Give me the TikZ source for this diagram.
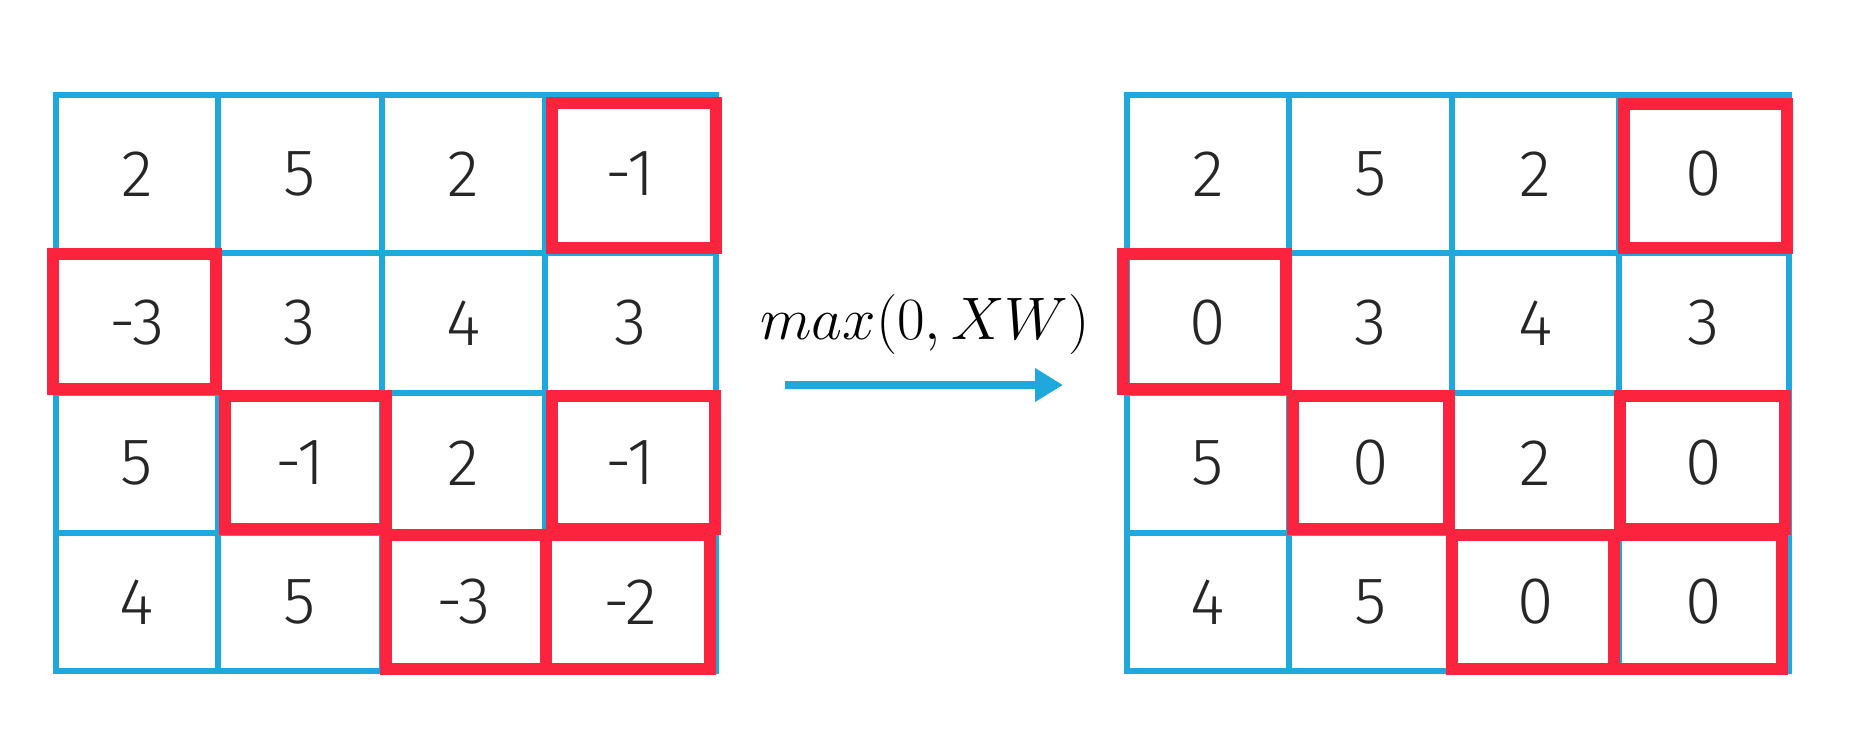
\documentclass[tikz,border=0pt]{standalone}
\usepackage{fix-cm}
\usepackage[no-math]{fontspec}
\newfontfamily\numfont{Fira Sans Light}
\usetikzlibrary{arrows.meta}
\definecolor{gridblue}{RGB}{30,168,220}
\definecolor{hlred}{RGB}{252,35,62}
\begin{document}
\begin{tikzpicture}[x=1pt,y=-1pt,
  cellbox/.style={draw=gridblue, line width=6.5pt, rectangle, inner sep=0pt, outer sep=0pt,
    font=\numfont\fontsize{66}{70}\selectfont, text=black!85},
  redbox/.style={draw=hlred, line width=12pt, line join=miter},
  flow/.style={draw=gridblue, line width=8pt, -{Triangle[length=28pt,width=32pt]}},
  formula/.style={font=\fontsize{60}{72}\selectfont, anchor=base, inner sep=0pt}]
\useasboundingbox (0,0) rectangle (1874,738);
\def\YS{{95,253,393,533,671}}
\def\LXS{{56,218,382,545,716}}
\def\RXS{{1127,1289,1452,1619,1789}}
\def\LV{{"2","5","2","-1","-3","3","4","3","5","-1","2","-1","4","5","-3","-2"}}
\def\RV{{"2","5","2","0","0","3","4","3","5","0","2","0","4","5","0","0"}}
\foreach \r in {0,...,3}{
  \foreach \c in {0,...,3}{
    \pgfmathsetmacro\ya{\YS[\r]}
    \pgfmathsetmacro\yb{\YS[\r+1]}
    \pgfmathsetmacro\h{\yb-\ya}
    \pgfmathsetmacro\ym{(\ya+\yb)/2}
    % left grid
    \pgfmathsetmacro\xa{\LXS[\c]}
    \pgfmathsetmacro\xb{\LXS[\c+1]}
    \pgfmathsetmacro\w{\xb-\xa}
    \pgfmathsetmacro\xm{(\xa+\xb)/2}
    \pgfmathparse{\LV[\r*4+\c]}\let\txt\pgfmathresult
    \node[cellbox, minimum width=\w pt, minimum height=\h pt] (L-\r-\c) at (\xm,\ym) {\txt};
    % right grid
    \pgfmathsetmacro\xa{\RXS[\c]}
    \pgfmathsetmacro\xb{\RXS[\c+1]}
    \pgfmathsetmacro\w{\xb-\xa}
    \pgfmathsetmacro\xm{(\xa+\xb)/2}
    \pgfmathparse{\RV[\r*4+\c]}\let\txt\pgfmathresult
    \node[cellbox, minimum width=\w pt, minimum height=\h pt] (R-\r-\c) at (\xm,\ym) {\txt};
  }
}
% highlighted (negative / clipped) cells
\foreach \cell/\ax/\ay/\bx/\by in {
  L-0-3/7/8/0/-5, L-1-0/-3/1/-2/-4, L-2-1/7/3/4/-4, L-2-3/7/3/-1/-4, L-3-2/4/2/1/-2, L-3-3/1/2/-6/-2,
  R-0-3/5/9/-2/-5, R-1-0/-4/1/-3/-4, R-2-1/4/3/-3/-4, R-2-3/1/3/-4/-4, R-3-2/0/2/-5/-2, R-3-3/-5/2/-7/-2}{
  \draw[redbox] ([shift={(\ax,\ay)}]\cell.north west) rectangle ([shift={(\bx,\by)}]\cell.south east);
}
\node[formula] (fx) at (925,339) {$max(0,XW)$};
\coordinate (as) at (785,385);
\coordinate (ae) at (1063,385);
\draw[flow] (as) -- (ae);
\end{tikzpicture}
\end{document}
